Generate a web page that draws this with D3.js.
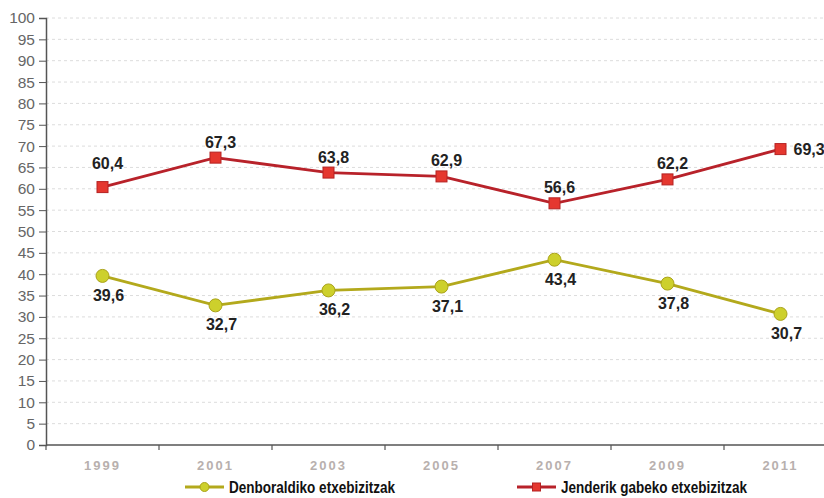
<!DOCTYPE html>
<html>
<head>
<meta charset="utf-8">
<script src="https://cdn.jsdelivr.net/npm/d3@7"></script>
<style>
  body { margin: 0; background: #fff; }
  svg { display: block; font-family: Arial, "Liberation Sans", sans-serif; }
</style>
</head>
<body>
<svg id="chart" width="824" height="498"></svg>
<script>
const years = ['1999', '2001', '2003', '2005', '2007', '2009', '2011'];
const temporaryHomes = [39.6, 32.7, 36.2, 37.1, 43.4, 37.8, 30.7];
const emptyHomes = [60.4, 67.3, 63.8, 62.9, 56.6, 62.2, 69.3];
const yTicks = d3.range(0, 101, 5);
const seriesNames = ['Denboraldiko etxebizitzak', 'Jenderik gabeko etxebizitzak'];

const LEFT = 46, TOP = 18, BOTTOM = 445, RIGHT = 824;
const fmt = v => String(v).replace('.', ',');

const svg = d3.select('#chart');

const x = d3.scaleBand().domain(years).range([LEFT, LEFT + 113 * years.length]);
const y = d3.scaleLinear().domain([0, 100]).range([BOTTOM, TOP]);
const cx = d => x(d) + x.bandwidth() / 2;

// grid
svg.append('g')
  .selectAll('line')
  .data(yTicks.filter(t => t > 0))
  .join('line')
  .attr('x1', LEFT).attr('x2', RIGHT)
  .attr('y1', d => y(d)).attr('y2', d => y(d))
  .attr('stroke', '#dcdcdc')
  .attr('stroke-dasharray', '3,3');

// y axis
const yAxis = svg.append('g')
  .attr('transform', `translate(${LEFT},0)`)
  .call(d3.axisLeft(y).tickValues(yTicks).tickSize(7).tickPadding(4));
yAxis.select('.domain').attr('stroke', '#555').attr('stroke-width', 1.5);
yAxis.selectAll('.tick line').attr('stroke', '#555');
yAxis.selectAll('text')
  .attr('fill', '#666')
  .style('font-size', '15.5px');

// x axis
const xAxis = svg.append('g')
  .attr('transform', `translate(0,${BOTTOM})`);
xAxis.append('line')
  .attr('x1', LEFT).attr('x2', RIGHT)
  .attr('stroke', '#555').attr('stroke-width', 1.5);
xAxis.selectAll('line.tk')
  .data(years)
  .join('line')
  .attr('class', 'tk')
  .attr('x1', d => x(d)).attr('x2', d => x(d))
  .attr('y1', 0).attr('y2', 5)
  .attr('stroke', '#555').attr('stroke-width', 1.2);
xAxis.selectAll('text')
  .data(years)
  .join('text')
  .attr('x', cx)
  .attr('y', 25)
  .attr('text-anchor', 'middle')
  .attr('fill', '#b8b0ae')
  .style('font-size', '13px')
  .style('font-weight', 'bold')
  .style('letter-spacing', '2px')
  .text(d => d);

const line = d3.line().x((d, i) => cx(years[i])).y(d => y(d));

// emptyHomes (red, squares)
svg.append('path')
  .datum(emptyHomes)
  .attr('d', line)
  .attr('fill', 'none')
  .attr('stroke', '#b8222a')
  .attr('stroke-width', 2.8);
svg.append('g')
  .selectAll('rect')
  .data(emptyHomes)
  .join('rect')
  .attr('x', (d, i) => cx(years[i]) - 5.5)
  .attr('y', d => y(d) - 5.5)
  .attr('width', 11).attr('height', 11)
  .attr('fill', '#e5372f')
  .attr('stroke', '#b52222')
  .attr('stroke-width', 1);

// temporaryHomes (olive, circles)
svg.append('path')
  .datum(temporaryHomes)
  .attr('d', line)
  .attr('fill', 'none')
  .attr('stroke', '#b3a91c')
  .attr('stroke-width', 2.8);
svg.append('g')
  .selectAll('circle')
  .data(temporaryHomes)
  .join('circle')
  .attr('cx', (d, i) => cx(years[i]))
  .attr('cy', d => y(d))
  .attr('r', 6.5)
  .attr('fill', '#cdd02c')
  .attr('stroke', '#aaa31a')
  .attr('stroke-width', 1);

// value labels
const labelStyle = sel => sel
  .attr('fill', '#222')
  .style('font-size', '16px')
  .style('font-weight', 'bold');

const last = emptyHomes.length - 1;
svg.append('g')
  .selectAll('text')
  .data(emptyHomes)
  .join('text')
  .attr('x', (d, i) => i === last ? cx(years[i]) + 13 : cx(years[i]) + 5)
  .attr('y', (d, i) => i === last ? y(d) + 6 : y(d) - (i === 0 ? 18 : 10))
  .attr('text-anchor', (d, i) => i === last ? 'start' : 'middle')
  .call(labelStyle)
  .text(fmt);

svg.append('g')
  .selectAll('text')
  .data(temporaryHomes)
  .join('text')
  .attr('x', (d, i) => cx(years[i]) + 6)
  .attr('y', d => y(d) + 25)
  .attr('text-anchor', 'middle')
  .call(labelStyle)
  .text(fmt);

// legend
const legend = [
  { name: seriesNames[0], x: 185, w: 166, color: '#b3a91c', fill: '#cdd02c', stroke: '#aaa31a', shape: 'circle' },
  { name: seriesNames[1], x: 517, w: 186, color: '#b8222a', fill: '#e5372f', stroke: '#b52222', shape: 'rect' }
];
const lg = svg.append('g').selectAll('g')
  .data(legend)
  .join('g')
  .attr('transform', d => `translate(${d.x},487)`);
lg.append('line')
  .attr('x1', 0).attr('x2', 39)
  .attr('stroke', d => d.color)
  .attr('stroke-width', 3);
lg.filter(d => d.shape === 'circle').append('circle')
  .attr('cx', 19.5).attr('r', 4.5)
  .attr('fill', d => d.fill).attr('stroke', d => d.stroke);
lg.filter(d => d.shape === 'rect').append('rect')
  .attr('x', 15.5).attr('y', -4).attr('width', 8).attr('height', 8)
  .attr('fill', d => d.fill).attr('stroke', d => d.stroke);
lg.append('text')
  .attr('x', 44)
  .attr('y', 6)
  .attr('fill', '#111')
  .attr('textLength', d => d.w)
  .attr('lengthAdjust', 'spacingAndGlyphs')
  .style('font-size', '17px')
  .style('font-weight', 'bold')
  .text(d => d.name);
</script>
</body>
</html>
